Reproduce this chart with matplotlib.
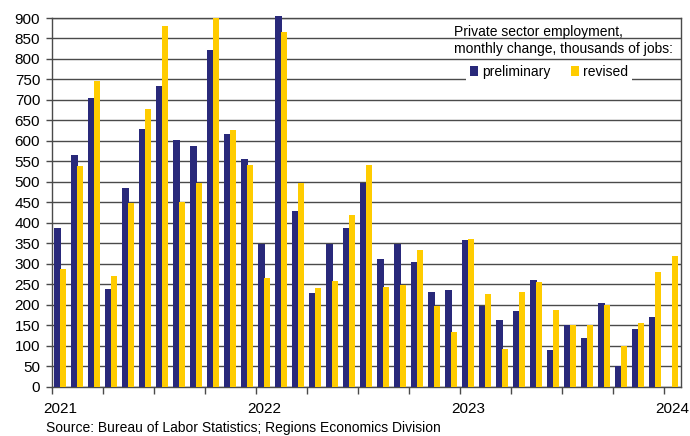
import numpy as np
import pandas as pd
import matplotlib
matplotlib.use("Agg")
import matplotlib.pyplot as plt
from matplotlib.patches import Patch
from matplotlib.ticker import MultipleLocator, FixedLocator

plt.rcParams['font.family'] = ['Liberation Sans', 'DejaVu Sans']

months = [p.strftime("%b %Y") for p in pd.period_range("2021-01", "2024-01", freq="M")]
preliminary = [388, 566, 705, 238, 484, 628, 734, 603, 587, 822, 616, 555,
               349, 904, 428, 229, 348, 387, 498, 311, 348, 303, 230, 235,
               358, 197, 162, 184, 260, 90, 150, 119, 203, 50, 140, 169, np.nan]
revised = [287, 539, 747, 270, 449, 678, 880, 451, 496, 900, 626, 541,
           265, 866, 496, 241, 258, 418, 541, 244, 248, 333, 196, 134,
           361, 226, 92, 232, 255, 186, 150, 150, 199, 100, 154, 280, 318]
year_labels = ["2021", "2022", "2023", "2024"]
title_lines = ["Private sector employment,", "monthly change, thousands of jobs:"]
source = "Source: Bureau of Labor Statistics; Regions Economics Division"

BLUE = "#29297A"
YELLOW = "#FFCC00"
GRID = "#4A4A4A"

fig = plt.figure(figsize=(6.9, 4.36), dpi=100)
ax = fig.add_axes([52/690, 49.5/436, (681-52)/690, (386.5-18)/436])

n = len(months)
x = np.arange(n)
ax.bar(x + 0.315, preliminary, width=0.39, color=BLUE, zorder=3, clip_on=False, linewidth=0)
ax.bar(x + 0.64, revised, width=0.34, color=YELLOW, zorder=3, clip_on=False, linewidth=0)

ax.set_xlim(0, n)
ax.set_ylim(0, 900)
ax.yaxis.set_major_locator(MultipleLocator(50))
ax.grid(axis='y', color=GRID, linewidth=1.0, zorder=1)
ax.set_axisbelow(True)
ax.tick_params(axis='y', length=4, width=1, color=GRID, labelsize=11, pad=4.5)

ax.xaxis.set_minor_locator(FixedLocator(np.arange(0, n, 3)))
ax.xaxis.set_major_locator(FixedLocator([0.5, 12.5, 24.5, 36.5]))
ax.set_xticklabels(year_labels)
ax.tick_params(axis='x', which='major', length=0, labelsize=11, pad=11.5)
ax.tick_params(axis='x', which='minor', length=5, width=1, color=GRID)

for s in ['left', 'bottom', 'right', 'top']:
    ax.spines[s].set_color(GRID)
    ax.spines[s].set_linewidth(1.0)

fig.text(454/690, 1 - 32/436, title_lines[0], fontsize=10, va='center', ha='left')
fig.text(454/690, 1 - 49/436, title_lines[1], fontsize=10, va='center', ha='left')

handles = [Patch(facecolor=BLUE, edgecolor='none', label='preliminary'),
           Patch(facecolor=YELLOW, edgecolor='none', label='revised')]
leg = ax.legend(handles=handles, ncol=2, loc='center',
                bbox_to_anchor=(549/690, 1 - 72/436), bbox_transform=fig.transFigure,
                frameon=True, fancybox=False, edgecolor='none', facecolor='white', framealpha=1,
                fontsize=10, handlelength=0.6, handleheight=0.8, handletextpad=0.25,
                columnspacing=1.5, borderpad=0.3, borderaxespad=0)
leg.set_zorder(5)

fig.text(46/690, 1 - 428/436, source, fontsize=10, va='center', ha='left')

fig.savefig("out.png", dpi=100)
